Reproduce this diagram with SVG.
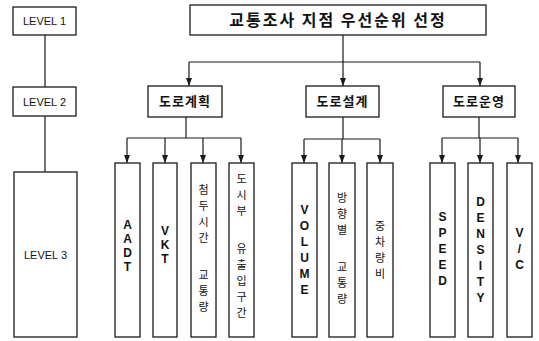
<svg xmlns="http://www.w3.org/2000/svg" width="539" height="341" viewBox="0 0 539 341">
<style>
.box{fill:#fff;stroke:#1a1a1a;stroke-width:1.3}
.ln{fill:none;stroke:#1a1a1a;stroke-width:1.2}
.lv{font-family:"Liberation Sans",Arial,sans-serif;font-size:11px;fill:#111;text-anchor:middle}
.t1{font-family:"Noto Sans CJK KR","Noto Sans",sans-serif;font-size:16px;font-weight:bold;fill:#111;text-anchor:middle}
.t2{font-family:"Noto Sans CJK KR","Noto Sans",sans-serif;font-size:13px;font-weight:bold;fill:#111;text-anchor:middle}
.en{font-family:"Liberation Sans",Arial,sans-serif;font-size:12px;font-weight:bold;fill:#111;text-anchor:middle}
.kr{font-family:"Noto Sans CJK KR","Noto Sans",sans-serif;font-size:11px;fill:#111;text-anchor:middle}
</style>
<defs>
<marker id="ah" viewBox="0 0 8 6" refX="8" refY="3" markerWidth="8" markerHeight="6" markerUnits="userSpaceOnUse" orient="auto">
<path d="M0,0 L8,3 L0,6 z" fill="#1a1a1a"/>
</marker>
</defs>

<g id="connectors">
<path class="ln" d="M45,35 V87 M45,116 V172"/>
<path class="ln" d="M189,62 H480"/>
<path class="ln" d="M343,35 V86" marker-end="url(#ah)"/>
<path class="ln" d="M189,62 V86" marker-end="url(#ah)"/>
<path class="ln" d="M480,62 V86" marker-end="url(#ah)"/>
<path class="ln" d="M186,117 V138 M127,138 H241 M304,139 H380 M343,117 V139 M479,117 V138 M442,138 H518"/>
<path class="ln" d="M127,138 V163" marker-end="url(#ah)"/>
<path class="ln" d="M165,138 V163" marker-end="url(#ah)"/>
<path class="ln" d="M203,138 V163" marker-end="url(#ah)"/>
<path class="ln" d="M241,138 V163" marker-end="url(#ah)"/>
<path class="ln" d="M304,139 V163" marker-end="url(#ah)"/>
<path class="ln" d="M342,139 V163" marker-end="url(#ah)"/>
<path class="ln" d="M380,139 V163" marker-end="url(#ah)"/>
<path class="ln" d="M442,138 V163" marker-end="url(#ah)"/>
<path class="ln" d="M480,138 V163" marker-end="url(#ah)"/>
<path class="ln" d="M518,138 V163" marker-end="url(#ah)"/>
</g>

<g id="level1"><rect class="box" x="13" y="7" width="63" height="28"/><text class="lv" x="44.5" y="25">LEVEL 1</text></g>
<g id="level2"><rect class="box" x="13" y="87" width="63" height="29"/><text class="lv" x="44.5" y="105.5">LEVEL 2</text></g>
<g id="level3"><rect class="box" x="14" y="172" width="63" height="165"/><text class="lv" x="45.5" y="259">LEVEL 3</text></g>

<g id="root"><rect class="box" x="190" y="5" width="296" height="30"/><text class="t1" x="338" y="25.5" letter-spacing="2">교통조사 지점  우선순위 선정</text></g>

<g id="plan"><rect class="box" x="148" y="86" width="74" height="31"/><text class="t2" x="185" y="106" letter-spacing="1">도로계획</text></g>
<g id="design"><rect class="box" x="306" y="86" width="73" height="31"/><text class="t2" x="342.5" y="106" letter-spacing="1">도로설계</text></g>
<g id="oper"><rect class="box" x="443" y="86" width="72" height="31"/><text class="t2" x="479" y="106" letter-spacing="1">도로운영</text></g>

<g id="aadt"><rect class="box" x="115" y="163" width="25" height="174"/>
<text class="en"><tspan x="127.5" y="229">A</tspan><tspan x="127.5" y="243">A</tspan><tspan x="127.5" y="257">D</tspan><tspan x="127.5" y="271">T</tspan></text></g>
<g id="vkt"><rect class="box" x="153" y="163" width="24" height="174"/>
<text class="en"><tspan x="165" y="235">V</tspan><tspan x="165" y="249">K</tspan><tspan x="165" y="263">T</tspan></text></g>
<g id="peak"><rect class="box" x="191" y="163" width="25" height="174"/>
<text class="kr"><tspan x="203.5" y="194">첨</tspan><tspan x="203.5" y="210">두</tspan><tspan x="203.5" y="226">시</tspan><tspan x="203.5" y="242">간</tspan><tspan x="203.5" y="279">교</tspan><tspan x="203.5" y="295">통</tspan><tspan x="203.5" y="311">량</tspan></text></g>
<g id="urban"><rect class="box" x="229" y="163" width="25" height="174"/>
<text class="kr"><tspan x="241.5" y="183">도</tspan><tspan x="241.5" y="199">시</tspan><tspan x="241.5" y="215">부</tspan><tspan x="241.5" y="253">유</tspan><tspan x="241.5" y="269">출</tspan><tspan x="241.5" y="285">입</tspan><tspan x="241.5" y="301">구</tspan><tspan x="241.5" y="317">간</tspan></text></g>

<g id="volume"><rect class="box" x="292" y="163" width="25" height="174"/>
<text class="en"><tspan x="304.5" y="214">V</tspan><tspan x="304.5" y="230">O</tspan><tspan x="304.5" y="246">L</tspan><tspan x="304.5" y="262">U</tspan><tspan x="304.5" y="278">M</tspan><tspan x="304.5" y="294">E</tspan></text></g>
<g id="dir"><rect class="box" x="329" y="163" width="26" height="174"/>
<text class="kr"><tspan x="342" y="202">방</tspan><tspan x="342" y="218">향</tspan><tspan x="342" y="234">별</tspan><tspan x="342" y="271">교</tspan><tspan x="342" y="287">통</tspan><tspan x="342" y="303">량</tspan></text></g>
<g id="heavy"><rect class="box" x="367" y="163" width="26" height="174"/>
<text class="kr"><tspan x="380" y="230">중</tspan><tspan x="380" y="246">차</tspan><tspan x="380" y="262">량</tspan><tspan x="380" y="278">비</tspan></text></g>

<g id="speed"><rect class="box" x="430" y="163" width="25" height="174"/>
<text class="en"><tspan x="442.5" y="221">S</tspan><tspan x="442.5" y="237">P</tspan><tspan x="442.5" y="253">E</tspan><tspan x="442.5" y="269">E</tspan><tspan x="442.5" y="285">D</tspan></text></g>
<g id="density"><rect class="box" x="468" y="163" width="25" height="174"/>
<text class="en"><tspan x="480.5" y="206">D</tspan><tspan x="480.5" y="222">E</tspan><tspan x="480.5" y="238">N</tspan><tspan x="480.5" y="254">S</tspan><tspan x="480.5" y="270">I</tspan><tspan x="480.5" y="286">T</tspan><tspan x="480.5" y="302">Y</tspan></text></g>
<g id="vc"><rect class="box" x="507" y="163" width="25" height="174"/>
<text class="en"><tspan x="519.5" y="237">V</tspan><tspan x="519.5" y="253">/</tspan><tspan x="519.5" y="269">C</tspan></text></g>
</svg>
